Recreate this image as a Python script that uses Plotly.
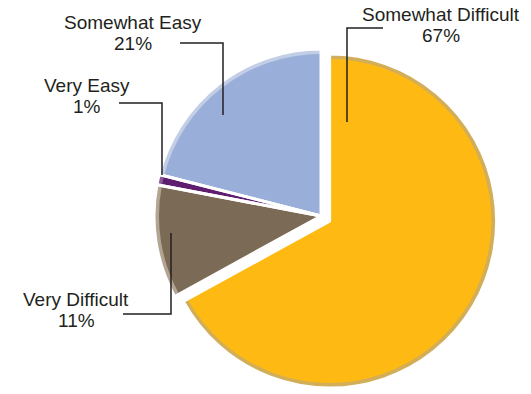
import plotly.graph_objects as go

# Survey answers, clockwise from 12 o'clock
labels = ["Somewhat Difficult", "Very Difficult", "Very Easy", "Somewhat Easy"]
values = [67, 11, 1, 21]
pct_text = ["67%", "11%", "1%", "21%"]

fill_colors = ["#FEBA12", "#7B6A56", "#5E1D6E", "#99AED9"]
rim_colors = ["#D2AE58", "#B2A591", "#8A5A98", "#C2CDE6"]
pull = [0.06, 0, 0, 0]

W, H = 531, 394
CX, CY, R, RIM = 321, 216, 167, 5


def domain(cx, cy, r, maxpull):
    h = r * (1 + maxpull)
    return dict(x=[(cx - h) / W, (cx + h) / W],
                y=[(H - cy - h) / H, (H - cy + h) / H])


def px(x):
    return x / W


def py(y):
    return 1 - y / H


common = dict(labels=labels, values=values, sort=False, direction="clockwise",
              rotation=0, pull=pull, textinfo="none", hoverinfo="label+percent",
              showlegend=False)

fig = go.Figure()
# bevel rim (full radius)
fig.add_trace(go.Pie(**common, domain=domain(CX, CY, R, max(pull)),
                     marker=dict(colors=rim_colors, line=dict(width=0))))
# slice faces
fig.add_trace(go.Pie(**common, domain=domain(CX, CY, R - RIM, max(pull)),
                     marker=dict(colors=fill_colors, line=dict(width=0))))
# white separators between slices
fig.add_trace(go.Pie(**common, domain=domain(CX, CY, R, max(pull)),
                     marker=dict(colors=["rgba(0,0,0,0)"] * 4,
                                 line=dict(color="white", width=3))))

# label block: centre x and the y that splits the name line from the percent line
label_pos = {
    "Somewhat Difficult": (441, 26),
    "Very Difficult": (76, 311),
    "Very Easy": (87, 97),
    "Somewhat Easy": (133, 34),
}
leaders = {
    "Somewhat Difficult": [(347, 122), (347, 28), (383, 28)],
    "Very Difficult": [(171, 233), (171, 314), (123, 314)],
    "Very Easy": [(162, 175), (162, 103), (119, 103)],
    "Somewhat Easy": [(223, 115), (223, 43), (180, 43)],
}

font = dict(family="Liberation Sans, Arial, sans-serif", size=19, color="#231F20")
for name, pct in zip(labels, pct_text):
    x, ysplit = label_pos[name]
    fig.add_annotation(x=px(x), y=py(ysplit), xref="paper", yref="paper", text=name,
                       showarrow=False, font=font, xanchor="center",
                       yanchor="bottom", valign="bottom", height=18, borderpad=0)
    fig.add_annotation(x=px(x), y=py(ysplit), xref="paper", yref="paper", text=pct,
                       showarrow=False, font=font, xanchor="center",
                       yanchor="top", valign="middle", height=16, borderpad=0)
    pts = leaders[name]
    path = "M " + " L ".join(f"{px(a)} {py(b)}" for a, b in pts)
    fig.add_shape(type="path", path=path, xref="paper", yref="paper",
                  line=dict(color="#231F20", width=1.5))

fig.update_layout(width=W, height=H, margin=dict(l=0, r=0, t=0, b=0),
                  paper_bgcolor="white", plot_bgcolor="white")
fig.write_html("out.html")
